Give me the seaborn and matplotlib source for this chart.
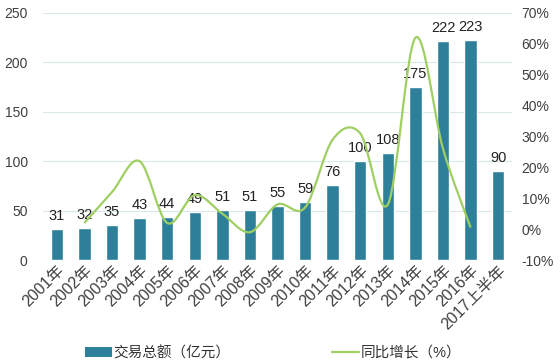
import numpy as np
import pandas as pd
import seaborn as sns
import matplotlib
matplotlib.use("Agg")
import matplotlib.pyplot as plt
from matplotlib.path import Path
from matplotlib.patches import PathPatch, Patch
from matplotlib.lines import Line2D

# dados
anos = ["2001年", "2002年", "2003年", "2004年", "2005年", "2006年", "2007年", "2008年",
        "2009年", "2010年", "2011年", "2012年", "2013年", "2014年", "2015年", "2016年",
        "2017上半年"]
total = [31, 32, 35, 43, 44, 49, 51, 51, 55, 59, 76, 100, 108, 175, 222, 223, 90]
# crescimento (%) - 2001 e 2017 sem valor
crescimento = [np.nan, 2, 12, 22, 2, 11, 5, -1, 8, 7, 29, 31, 8, 62, 26, 0.5, np.nan]

cor_barra = "#2e7f99"
cor_linha = "#9fcf62"

sns.set_theme(style="white")
plt.rcParams['font.family'] = ['Liberation Sans', 'Noto Sans CJK SC', 'DejaVu Sans']

df = pd.DataFrame({"ano": anos, "total": total})

fig = plt.figure(figsize=(5.6, 3.64), dpi=100)
ax = fig.add_axes([43 / 560, 1 - 260 / 364, (512 - 43) / 560, (260 - 13) / 364])

sns.barplot(data=df, x="ano", y="total", color=cor_barra, saturation=1, width=0.45, ax=ax)
ax.set_ylim(0, 250)
ax.set_xlim(-0.5, len(anos) - 0.5)
ax.set_yticks(range(0, 251, 50))
ax.grid(axis="y", color="#d9e6ea", linewidth=0.8)
ax.set_axisbelow(True)
ax.set_xlabel("")
ax.set_ylabel("")
for s in ax.spines.values():
    s.set_visible(False)
ax.tick_params(axis="y", length=0, pad=11, labelsize=10, labelcolor="#404040")
ax.tick_params(axis="x", length=0, pad=2, labelsize=11.5, labelcolor="#404040")
plt.setp(ax.get_xticklabels(), rotation=45, ha="right", rotation_mode="anchor")

for i, v in enumerate(total):
    ax.text(i, v + 6, str(v), ha="center", va="bottom", fontsize=10.5, color="#222222")

# eixo secundario com linha suavizada
ax2 = ax.twinx()
ax2.set_ylim(-10, 70)
ax2.set_yticks(range(-10, 71, 10))
ax2.set_yticklabels([f"{t}%" for t in range(-10, 71, 10)])
ax2.tick_params(axis="y", length=0, pad=7, labelsize=10, labelcolor="#404040")
for s in ax2.spines.values():
    s.set_visible(False)
ax2.grid(False)

xs = [i for i, c in enumerate(crescimento) if not np.isnan(c)]
ys = [c for c in crescimento if not np.isnan(c)]
pts = np.column_stack([xs, ys])
verts = [tuple(pts[0])]
codes = [Path.MOVETO]
n = len(pts)
for i in range(n - 1):
    p0 = pts[max(i - 1, 0)]
    p1 = pts[i]
    p2 = pts[i + 1]
    p3 = pts[min(i + 2, n - 1)]
    c1 = p1 + (p2 - p0) / 6
    c2 = p2 - (p3 - p1) / 6
    verts += [tuple(c1), tuple(c2), tuple(p2)]
    codes += [Path.CURVE4] * 3
ax2.add_patch(PathPatch(Path(verts, codes), facecolor="none", edgecolor=cor_linha, lw=1.6))

handles = [Patch(facecolor=cor_barra, edgecolor="none"),
           Line2D([0], [0], color=cor_linha, lw=1.6)]
fig.legend(handles, ["交易总额（亿元）", "同比增长（%）"], loc="center",
           bbox_to_anchor=(0.4875, 1 - 353 / 364), ncol=2, frameon=False,
           fontsize=10.5, handlelength=1.85, handleheight=0.6, columnspacing=7,
           handletextpad=0.1, labelcolor="#333333")

fig.savefig("out.png", dpi=100)
